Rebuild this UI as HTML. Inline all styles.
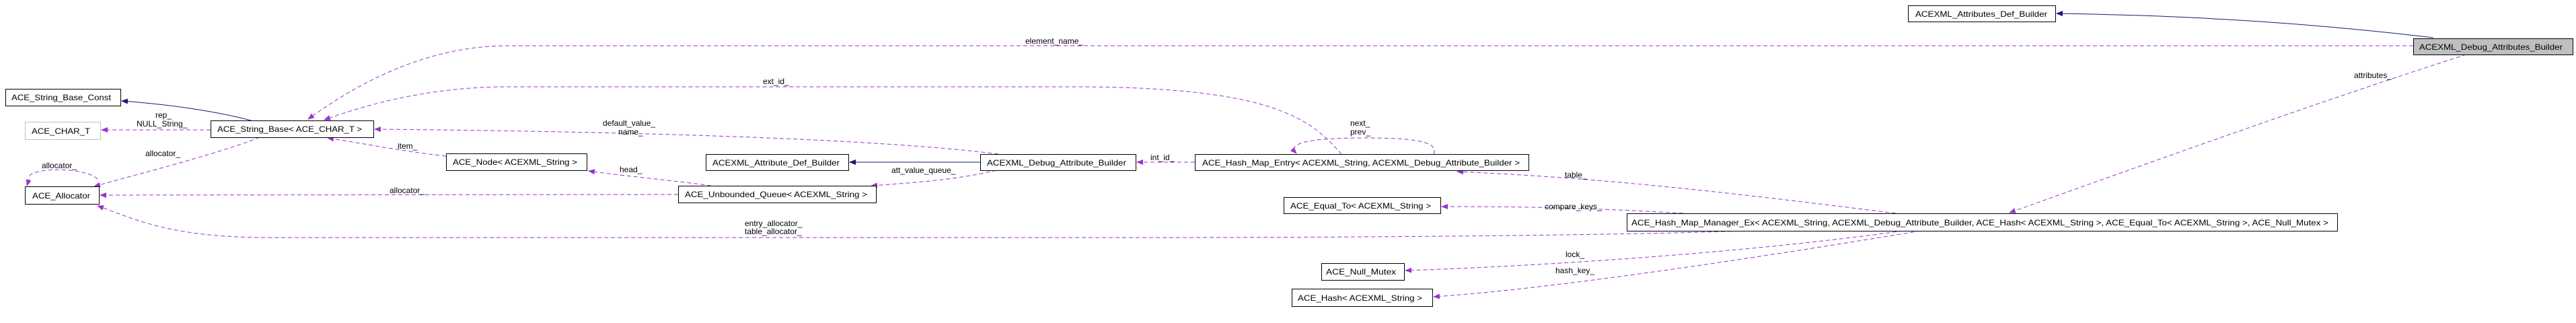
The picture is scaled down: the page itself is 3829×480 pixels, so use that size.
<!DOCTYPE html>
<html><head><meta charset="utf-8"><style>html,body{margin:0;padding:0;background:#fff}svg{display:block}</style></head>
<body>
<svg width="3829" height="480" viewBox="0 0 3829 480" xmlns="http://www.w3.org/2000/svg" font-family="Liberation Sans, sans-serif" font-size="12">
<defs>
<marker id="p" markerWidth="10" markerHeight="8" refX="9" refY="4" orient="auto" markerUnits="userSpaceOnUse"><path d="M0,0 L10,4 L0,8 z" fill="#9a32cd"/></marker>
<marker id="n" markerWidth="10" markerHeight="8" refX="9" refY="4" orient="auto" markerUnits="userSpaceOnUse"><path d="M0,0 L10,4 L0,8 z" fill="#191970"/></marker>
</defs>
<g fill="none" stroke-width="1">
<path d="M3617,56 C3400,30 3200,22 3057,20" stroke="#191970" marker-end="url(#n)"/>
<path d="M1457,241 L1263,241" stroke="#191970" marker-end="url(#n)"/>
<path d="M373,179 C320,165 250,155 181,150" stroke="#191970" marker-end="url(#n)"/>
<g stroke="#9a32cd" stroke-dasharray="6,4">
<path d="M3587,68 L755,68 C650,68 550,110 458,177" marker-end="url(#p)"/>
<path d="M1994,229 C1950,180 1900,129 1597,129 L755,129 C650,129 560,150 482,178" marker-end="url(#p)"/>
<path d="M1484,229 C1300,205 900,195 557,192" marker-end="url(#p)"/>
<path d="M1481,253 C1420,268 1350,272 1295,276" marker-end="url(#p)"/>
<path d="M663,232 C600,225 550,215 487,205" marker-end="url(#p)"/>
<path d="M1057,276 C1000,268 930,262 875,254" marker-end="url(#p)"/>
<path d="M1008,289 L149,290" marker-end="url(#p)"/>
<path d="M386,204 C320,230 200,260 140,277" marker-end="url(#p)"/>
<path d="M313,193 L151,193" marker-end="url(#p)"/>
<path d="M145,266 C130,250 60,248 45,260 L40,276" marker-end="url(#p)"/>
<path d="M2594,343 C2400,350 2000,353 1700,353 L400,353 C250,353 200,325 145,306" marker-end="url(#p)"/>
<path d="M2502,317 C2350,308 2250,307 2143,307" marker-end="url(#p)"/>
<path d="M2818,317 C2600,290 2400,265 2166,255" marker-end="url(#p)"/>
<path d="M3666,81 C3450,150 3200,240 2987,316" marker-end="url(#p)"/>
<path d="M2829,343 C2600,375 2300,395 2089,402" marker-end="url(#p)"/>
<path d="M2855,343 C2600,385 2300,430 2131,441" marker-end="url(#p)"/>
<path d="M2131,229 C2140,210 2100,205 2030,205 C1960,205 1910,210 1927,228" marker-end="url(#p)"/>
<path d="M1776,241 L1690,241" marker-end="url(#p)"/>
</g>
</g>
<g stroke="#000" stroke-width="1" fill="#fff">
<rect x="2836.5" y="8.5" width="219" height="24"/>
<rect x="3587.5" y="57.5" width="237" height="24" fill="#bfbfbf"/>
<rect x="8.5" y="132.5" width="171" height="25"/>
<rect x="37.5" y="181.5" width="112" height="26" stroke="#bfbfbf"/>
<rect x="313.5" y="179.5" width="242" height="25"/>
<rect x="37.5" y="277.5" width="110" height="26"/>
<rect x="663.5" y="228.5" width="209" height="25"/>
<rect x="1049.5" y="229.5" width="212" height="24"/>
<rect x="1008.5" y="276.5" width="294" height="25"/>
<rect x="1457.5" y="229.5" width="231" height="24"/>
<rect x="1776.5" y="229.5" width="496" height="24"/>
<rect x="1908.5" y="293.5" width="233" height="24"/>
<rect x="2418.5" y="317.5" width="1056" height="26"/>
<rect x="1964.5" y="391.5" width="123" height="25"/>
<rect x="1920.5" y="429.5" width="209" height="26"/>
</g>
<g fill="#000">
<text x="2847" y="25" textLength="196" lengthAdjust="spacingAndGlyphs">ACEXML_Attributes_Def_Builder</text>
<text x="3596" y="74" textLength="213" lengthAdjust="spacingAndGlyphs">ACEXML_Debug_Attributes_Builder</text>
<text x="17" y="149" textLength="148" lengthAdjust="spacingAndGlyphs">ACE_String_Base_Const</text>
<text x="47" y="199" textLength="87" lengthAdjust="spacingAndGlyphs">ACE_CHAR_T</text>
<text x="323" y="196" textLength="215" lengthAdjust="spacingAndGlyphs">ACE_String_Base&lt; ACE_CHAR_T &gt;</text>
<text x="48" y="295" textLength="86" lengthAdjust="spacingAndGlyphs">ACE_Allocator</text>
<text x="673" y="245" textLength="185" lengthAdjust="spacingAndGlyphs">ACE_Node&lt; ACEXML_String &gt;</text>
<text x="1059" y="246" textLength="189" lengthAdjust="spacingAndGlyphs">ACEXML_Attribute_Def_Builder</text>
<text x="1018" y="293" textLength="271" lengthAdjust="spacingAndGlyphs">ACE_Unbounded_Queue&lt; ACEXML_String &gt;</text>
<text x="1467" y="246" textLength="207" lengthAdjust="spacingAndGlyphs">ACEXML_Debug_Attribute_Builder</text>
<text x="1787" y="246" textLength="472" lengthAdjust="spacingAndGlyphs">ACE_Hash_Map_Entry&lt; ACEXML_String, ACEXML_Debug_Attribute_Builder &gt;</text>
<text x="1918" y="310" textLength="209" lengthAdjust="spacingAndGlyphs">ACE_Equal_To&lt; ACEXML_String &gt;</text>
<text x="2425" y="335" textLength="1036" lengthAdjust="spacingAndGlyphs">ACE_Hash_Map_Manager_Ex&lt; ACEXML_String, ACEXML_Debug_Attribute_Builder, ACE_Hash&lt; ACEXML_String &gt;, ACE_Equal_To&lt; ACEXML_String &gt;, ACE_Null_Mutex &gt;</text>
<text x="1971" y="408" textLength="104" lengthAdjust="spacingAndGlyphs">ACE_Null_Mutex</text>
<text x="1929" y="447" textLength="185" lengthAdjust="spacingAndGlyphs">ACE_Hash&lt; ACEXML_String &gt;</text>
<text x="1524" y="65">element_name_</text>
<text x="1134" y="125">ext_id_</text>
<text x="3499" y="116">attributes_</text>
<text x="896" y="187">default_value_</text>
<text x="919" y="200">name_</text>
<text x="2007" y="187">next_</text>
<text x="2007" y="200">prev_</text>
<text x="1710" y="238">int_id_</text>
<text x="2326" y="264">table_</text>
<text x="1325" y="257">att_value_queue_</text>
<text x="921" y="256">head_</text>
<text x="591" y="221">item_</text>
<text x="579" y="287">allocator_</text>
<text x="216" y="232">allocator_</text>
<text x="62" y="250">allocator_</text>
<text x="231" y="175">rep_</text>
<text x="203" y="188">NULL_String_</text>
<text x="1107" y="336">entry_allocator_</text>
<text x="1107" y="348">table_allocator_</text>
<text x="2296" y="311">compare_keys_</text>
<text x="2327" y="382">lock_</text>
<text x="2312" y="406">hash_key_</text>
</g>
</svg>
</body></html>
